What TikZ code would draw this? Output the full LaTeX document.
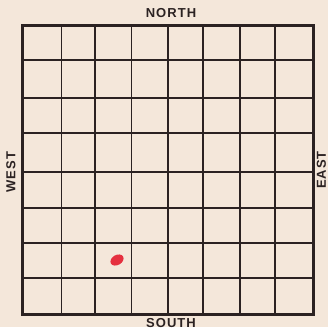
\documentclass[tikz,border=0pt]{standalone}
\usepackage{fontspec}
\newfontfamily\dirfont[LetterSpace=8]{Liberation Sans}
\definecolor{paper}{HTML}{F4E7DA}
\definecolor{ink}{HTML}{2B2222}
\definecolor{dotred}{HTML}{E5303F}

\begin{document}
\begin{tikzpicture}[x=1pt, y=-1pt, every node/.style={font=\dirfont\bfseries\fontsize{13}{13}\selectfont, text=ink, inner sep=0pt},
    thin line/.style={ink, line width=1.5pt},
    mid line/.style={ink, line width=2pt},
    half line/.style={ink, line width=2.6pt}]
  \fill[paper] (0,0) rectangle (328,327);
  \useasboundingbox (0,0) rectangle (328,327);
  \clip (0,0) rectangle (328,327);

  % grid
  \foreach \x in {61.5,131.5,203,275}
    \draw[thin line] (\x,25) -- (\x,314);
  \foreach \y in {60,133,208,278}
    \draw[thin line] (22,\y) -- (313,\y);
  \foreach \x in {95,240}
    \draw[mid line] (\x,25) -- (\x,314);
  \foreach \y in {98,243}
    \draw[mid line] (22,\y) -- (313,\y);
  \draw[half line] (168,25) -- (168,314);
  \draw[half line] (22,172) -- (313,172);
  \draw[ink, line width=3pt] (22,25) rectangle (313,314);

  % compass labels
  \node (north) at (171,13.5) {NORTH};
  \node (south) at (171,323.5) {SOUTH};
  \node[rotate=90] (west) at (11,172) {WEST};
  \node[rotate=90] (east) at (321.5,170) {EAST};

  % dot
  \fill[dotred, rotate around={30:(117,260)}] (117,260) ellipse [x radius=7pt, y radius=5pt];
\end{tikzpicture}
\end{document}
